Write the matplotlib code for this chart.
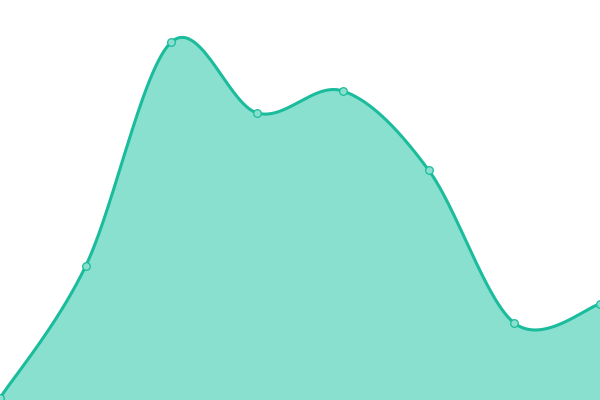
import numpy as np
import matplotlib
matplotlib.use("Agg")
import matplotlib.pyplot as plt

categories = ["A", "B", "C", "D", "E", "F", "G", "H"]
values = [2, 134, 358, 287, 309, 230, 77, 96]

LINE = "#1abc9c"
FILL = "#89e0cf"


def catmull_rom(xs, ys, n=60):
    xs = np.asarray(xs, float)
    ys = np.asarray(ys, float)
    px = np.concatenate([[xs[0]], xs, [xs[-1]]])
    py = np.concatenate([[ys[0]], ys, [ys[-1]]])
    outx, outy = [], []
    t = np.linspace(0, 1, n)
    for i in range(1, len(px) - 2):
        p0 = np.array([px[i], py[i]])
        p1 = np.array([px[i + 1], py[i + 1]])
        c0 = p0 + (np.array([px[i + 1], py[i + 1]]) - np.array([px[i - 1], py[i - 1]])) / 6
        c1 = p1 - (np.array([px[i + 2], py[i + 2]]) - np.array([px[i], py[i]])) / 6
        b = ((1 - t) ** 3)[:, None] * p0 + (3 * t * (1 - t) ** 2)[:, None] * c0 \
            + (3 * t ** 2 * (1 - t))[:, None] * c1 + (t ** 3)[:, None] * p1
        outx.extend(b[:, 0])
        outy.extend(b[:, 1])
    return np.array(outx), np.array(outy)


x = np.arange(len(categories))
sx, sy = catmull_rom(x, values)

fig = plt.figure(figsize=(6, 4), dpi=100)
ax = fig.add_axes([0, 0, 1, 1])
ax.fill_between(sx, sy, 0, color=FILL, linewidth=0)
ax.plot(sx, sy, color=LINE, linewidth=2.2, solid_capstyle="round")
ax.plot(x, values, linestyle="none", marker="o", markersize=5.5,
        markerfacecolor=FILL, markeredgecolor=LINE, markeredgewidth=0.9)
ax.set_xlim(0, len(categories) - 1)
ax.set_ylim(0, 400)
ax.axis("off")
fig.savefig("out.png", dpi=100)
